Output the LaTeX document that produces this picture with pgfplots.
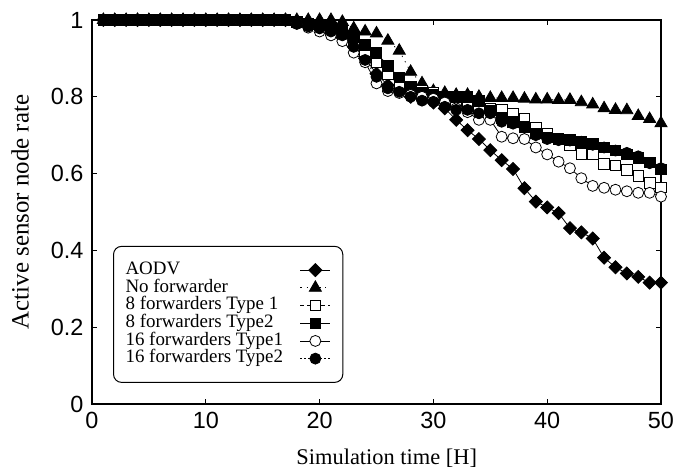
\documentclass[border=0pt]{standalone}
\usepackage{fontspec}
\setmainfont{Liberation Serif}
\setsansfont{Liberation Sans}
\usepackage{pgfplots}
\pgfplotsset{compat=1.18}
\usepackage{pgfplotstable}
\pgfplotstableread{
t aodv nof f8a f8b f16a f16b
1 1 1 1 1 1 1
2 1 1 1 1 1 1
3 1 1 1 1 1 1
4 1 1 1 1 1 1
5 1 1 1 1 1 1
6 1 1 1 1 1 1
7 1 1 1 1 1 1
8 1 1 1 1 1 1
9 1 1 1 1 1 1
10 1 1 1 1 1 1
11 1 1 1 1 1 1
12 1 1 1 1 1 1
13 1 1 1 1 1 1
14 1 1 1 1 1 1
15 1 1 1 1 1 1
16 1 1 1 1 1 1
17 1 1 1 1 1 1
18 0.995 1 0.995 0.995 0.99 0.99
19 0.99 1 0.99 0.99 0.98 0.983
20 0.98 1 0.985 0.985 0.97 0.978
21 0.97 1 0.975 0.98 0.96 0.97
22 0.955 0.995 0.96 0.97 0.945 0.96
23 0.93 0.978 0.94 0.955 0.915 0.93
24 0.90 0.97 0.92 0.935 0.89 0.896
25 0.86 0.965 0.89 0.915 0.835 0.852
26 0.83 0.946 0.86 0.88 0.815 0.822
27 0.815 0.92 0.83 0.85 0.81 0.813
28 0.80 0.865 0.82 0.825 0.805 0.80
29 0.795 0.835 0.815 0.81 0.80 0.79
30 0.785 0.815 0.81 0.805 0.795 0.787
31 0.77 0.81 0.80 0.80 0.785 0.774
32 0.74 0.805 0.79 0.80 0.77 0.766
33 0.713 0.805 0.775 0.80 0.76 0.766
34 0.69 0.80 0.77 0.79 0.74 0.757
35 0.661 0.797 0.77 0.765 0.74 0.757
36 0.635 0.797 0.766 0.745 0.696 0.735
37 0.612 0.797 0.755 0.735 0.692 0.73
38 0.562 0.795 0.744 0.722 0.69 0.72
39 0.527 0.793 0.72 0.705 0.668 0.70
40 0.512 0.793 0.705 0.694 0.65 0.69
41 0.497 0.792 0.69 0.69 0.631 0.687
42 0.458 0.792 0.674 0.687 0.614 0.686
43 0.447 0.786 0.652 0.683 0.588 0.683
44 0.431 0.780 0.652 0.677 0.568 0.675
45 0.381 0.770 0.625 0.668 0.563 0.668
46 0.356 0.766 0.621 0.660 0.558 0.66
47 0.340 0.765 0.609 0.650 0.554 0.654
48 0.331 0.750 0.594 0.641 0.55 0.645
49 0.316 0.742 0.575 0.629 0.55 0.627
50 0.316 0.731 0.564 0.611 0.54 0.614
}\data
\begin{document}
\begin{tikzpicture}
\begin{axis}[name=ax, scale only axis, width=569bp, height=384bp,
  xmin=0, xmax=50, ymin=0, ymax=1,
  xtick={0,10,20,30,40,50}, ytick={0,0.2,0.4,0.6,0.8,1},
  tick align=inside, major tick length=5bp,
  axis line style={line width=1.2bp}, tick style={line width=0.8bp, black},
  ticklabel style={font=\sffamily\fontsize{23.5}{23.5}\selectfont},
  xticklabel style={yshift=-5bp},
  yticklabel style={xshift=-5bp},
  /pgf/number format/assume math mode=true,
  xlabel={Simulation time [H]}, ylabel={Active sensor node rate},
  xlabel style={font=\fontsize{22.5}{22.5}\selectfont, at={(axis description cs:0.518,-0.1406)}, anchor=center},
  ylabel style={font=\fontsize{25}{25}\selectfont, at={(axis description cs:-0.1265,0.5)}, anchor=center},
  legend style={at={(0.037,0.055)}, anchor=south west, draw=black,
    rounded corners=8bp, line width=1bp, font=\fontsize{19}{19}\selectfont,
    nodes={inner sep=0pt, text height=12.5bp, text depth=4bp},
    row sep=1.2bp, column sep=17bp, inner xsep=12bp, inner ysep=15.5bp},
  legend cell align=left, legend plot pos=right,
  legend image code/.code={\draw[mark repeat=2,mark phase=2,#1] plot coordinates {(0bp,0bp)(15bp,0bp)(30bp,0bp)};},
  every axis plot/.append style={line width=0.8bp, black},
]
\addplot[mark=square*, mark size=4.6bp, mark options={solid, fill=black, rotate=45}] table[x=t,y=aodv]{\data};
\addlegendentry{AODV}
\addplot[dash pattern=on 1.2bp off 5bp, mark=triangle*, mark size=7bp, mark options={solid, fill=black}] table[x=t,y=nof]{\data};
\addlegendentry{No forwarder}
\addplot[dash pattern=on 4bp off 3bp, mark=square*, mark size=5.3bp, mark options={solid, fill=white}] table[x=t,y=f8a]{\data};
\addlegendentry{8 forwarders Type 1}
\addplot[mark=square*, mark size=5.3bp, mark options={solid, fill=black}] table[x=t,y=f8b]{\data};
\addlegendentry{8 forwarders Type2}
\addplot[mark=*, mark size=5.5bp, mark options={solid, fill=white}] table[x=t,y=f16a]{\data};
\addlegendentry{16 forwarders Type1}
\addplot[dash pattern=on 1.5bp off 2.5bp, mark=*, mark size=5.5bp, mark options={solid, fill=black}] table[x=t,y=f16b]{\data};
\addlegendentry{16 forwarders Type2}
\end{axis}
\pgfresetboundingbox
\path[use as bounding box] ([xshift=-92bp,yshift=-70bp]ax.south west) rectangle ([xshift=17bp,yshift=20bp]ax.north east);
\end{tikzpicture}
\end{document}
